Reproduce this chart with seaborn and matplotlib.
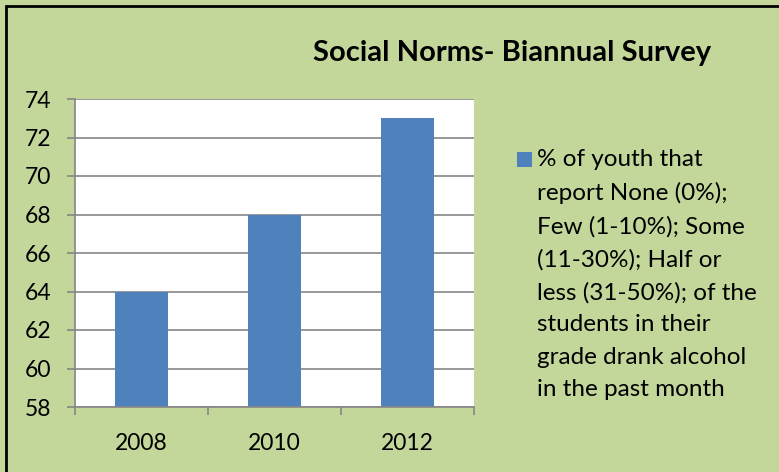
import matplotlib
matplotlib.use("Agg")
import matplotlib.pyplot as plt
import seaborn as sns
import pandas as pd
from matplotlib.patches import Rectangle

years = ["2008", "2010", "2012"]
values = [64, 68, 73]
series_label = ("% of youth that\nreport None (0%);\nFew (1-10%); Some\n(11-30%); Half or\n"
                "less (31-50%); of the\nstudents in their\ngrade drank alcohol\nin the past month")
title = "Social Norms- Biannual Survey"
yticks = [58, 60, 62, 64, 66, 68, 70, 72, 74]

sns.set_theme(style="white")
plt.rcParams['font.family'] = ['Lato', 'DejaVu Sans']

W, H = 779, 472
fig = plt.figure(figsize=(W / 100, H / 100), dpi=100)
bg = "#C4D79B"
bar_color = "#4F81BD"
fig.patch.set_facecolor(bg)

left, right, top, bottom = 75, 474, 99, 407
ax = fig.add_axes([left / W, 1 - bottom / H, (right - left) / W, (bottom - top) / H])
ax.set_facecolor("white")

df = pd.DataFrame({"year": years, "value": values})
sns.barplot(data=df, x="year", y="value", color=bar_color, width=0.4, ax=ax, saturation=1,
            linewidth=0, edgecolor="none")

ax.set_ylim(58, 74)
ax.set_yticks(yticks)
ax.set_xlim(-0.5, 2.5)
ax.set_xlabel("")
ax.set_ylabel("")
ax.yaxis.grid(True, color="#868686", linewidth=1.2)
ax.set_axisbelow(True)
for s in ["top", "right"]:
    ax.spines[s].set_visible(False)
for s in ["left", "bottom"]:
    ax.spines[s].set_color("#868686")
    ax.spines[s].set_linewidth(1.2)

ax.tick_params(axis="y", which="both", left=True, length=6, width=1.2, color="#868686",
               labelsize=16.5, pad=11, labelcolor="black")
ax.set_xticks([-0.5, 0.5, 1.5, 2.5], minor=False)
ax.set_xticklabels([])
ax.set_xticks([0, 1, 2], minor=True)
ax.set_xticklabels(years, minor=True)
ax.tick_params(axis="x", which="major", bottom=True, length=6, width=1.2, color="#868686")
ax.tick_params(axis="x", which="minor", bottom=False, length=0, labelsize=16.5, pad=19,
               labelcolor="black")

fig.text(512 / W, 1 - 53 / H, title, ha="center", va="center", fontsize=21,
         fontweight="bold", color="black")

# legend
fig.add_artist(Rectangle((517 / W, 1 - 167 / H), 15 / W, 15 / H, transform=fig.transFigure,
                         facecolor=bar_color, edgecolor="none"))
fig.text(537 / W, 1 - 149 / H, series_label, ha="left", va="top", fontsize=17.5,
         linespacing=1.66, color="black")

fig.add_artist(Rectangle((6 / W, -0.1), 1.2, 1 - 6 / H + 0.1, transform=fig.transFigure,
                         fill=False, edgecolor="black", linewidth=2))

fig.savefig("out.png", dpi=100, facecolor=bg)
